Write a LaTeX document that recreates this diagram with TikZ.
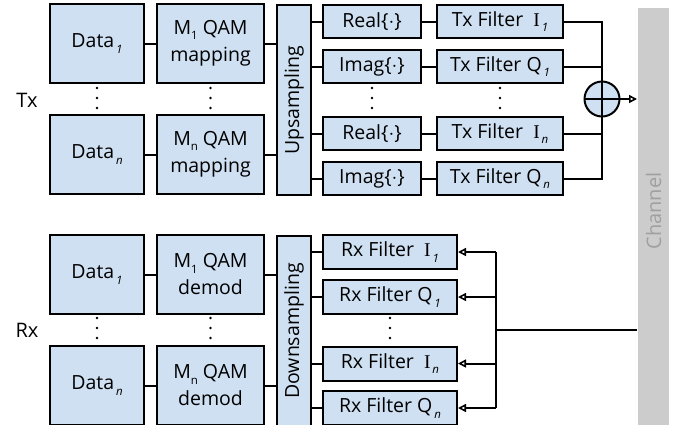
\documentclass[tikz,border=0pt]{standalone}
\usepackage{fontspec}
\setmainfont{Open Sans}
\newfontfamily\seriffont{Liberation Serif}
\usepackage{tikz}
\usetikzlibrary{arrows.meta}

\definecolor{boxblue}{RGB}{207,224,242}
\definecolor{changray}{RGB}{204,204,204}
\definecolor{chantext}{RGB}{160,160,160}

% subscripts: italic ones and upright ones
\newcommand{\isub}[1]{\raisebox{-0.5ex}{\fontsize{11.5}{11.5}\selectfont\,\textit{#1}}}
\newcommand{\msub}[1]{\raisebox{-0.5ex}{\fontsize{11.5}{11.5}\selectfont #1}}
\newcommand{\chI}{{\seriffont I}}

\begin{document}
\begin{tikzpicture}[x=1pt, y=-1pt, line width=2pt,
    blk/.style={draw, fill=boxblue, inner sep=0pt, align=center, font=\fontsize{19.5}{27}\selectfont},
    data/.style={blk, minimum width=94pt, minimum height=79pt},
    qam/.style={blk, minimum width=107pt, minimum height=79pt},
    part/.style={blk, minimum width=98pt, minimum height=33pt},
    txf/.style={blk, minimum width=126pt, minimum height=33pt},
    rxf/.style={blk, minimum width=134pt, minimum height=34pt},
    lbl/.style={inner sep=0pt, font=\fontsize{20}{22}\selectfont},
    tip/.style={-{Triangle[open, length=8pt, width=8pt, line width=1.6pt]}}]
    \useasboundingbox (0,0) rectangle (679,424);
    \clip (0,0) rectangle (679,424);

    % channel
    \node[fill=changray, inner sep=0pt, minimum width=31pt, minimum height=430pt] (chan) at (653.5,223) {};
    \node[inner sep=0pt, text=chantext, font=\fontsize{20}{22}\selectfont, rotate=90] (chanlbl) at (653.5,211) {Channel};

    % Tx side
    \node[lbl] (tx) at (27,100) {Tx};
    \node[data] (dt1) at (97,43.5) {Data\isub{1}};
    \node[data] (dtn) at (97,154.5) {Data\isub{n}};
    \node[qam] (map1) at (210.5,43.5) {M\msub{1} QAM\\mapping};
    \node[qam] (mapn) at (210.5,154.5) {M\msub{n} QAM\\mapping};
    \node[blk, minimum width=34pt, minimum height=190pt] (up) at (294,100) {\rotatebox{90}{Upsampling}};

    \node[part] (re1) at (372,21.5) {Real\{$\cdot$\}};
    \node[part] (im1) at (372,66.5) {Imag\{$\cdot$\}};
    \node[part] (ren) at (372,133.5) {Real\{$\cdot$\}};
    \node[part] (imn) at (372,178.5) {Imag\{$\cdot$\}};

    \node[txf] (txi1) at (500,21.5) {Tx Filter\ \ \chI\isub{1}};
    \node[txf] (txq1) at (500,66.5) {Tx Filter Q\isub{1}};
    \node[txf] (txin) at (500,133.5) {Tx Filter\ \ \chI\isub{n}};
    \node[txf] (txqn) at (500,178.5) {Tx Filter Q\isub{n}};

    \node[draw, circle, fill=boxblue, minimum size=35pt, inner sep=0pt] (sum) at (602,99) {};

    % vertical dots
    \foreach \x in {97, 210.5, 372, 500}
        \foreach \d in {-10, 0, 10}
            \fill (\x, 98+\d) circle (1.3pt);

    \draw (dt1) -- (map1);
    \draw (dtn) -- (mapn);
    \draw (map1.east) -- (map1.east -| up.west);
    \draw (mapn.east) -- (mapn.east -| up.west);
    \foreach \p in {re1, im1, ren, imn}
        \draw (\p.west -| up.east) -- (\p.west);
    \draw (re1) -- (txi1);
    \draw (im1) -- (txq1);
    \draw (ren) -- (txin);
    \draw (imn) -- (txqn);
    \draw (txi1.east) -| (sum.north);
    \draw (txqn.east) -| (sum.south);
    \draw (txq1.east) -- (txq1.east -| sum.center);
    \draw (txin.east) -- (txin.east -| sum.center);
    \draw (sum.north) -- (sum.south);
    \draw (sum.west) -- (sum.east);
    \draw[tip] (sum.east) -- (sum.east -| chan.west);

    % Rx side
    \node[lbl] (rx) at (27,330) {Rx};
    \node[data] (dr1) at (97,274.5) {Data\isub{1}};
    \node[data] (drn) at (97,385.5) {Data\isub{n}};
    \node[qam] (dem1) at (210.5,274.5) {M\msub{1} QAM\\demod};
    \node[qam] (demn) at (210.5,385.5) {M\msub{n} QAM\\demod};
    \node[blk, minimum width=34pt, minimum height=190pt] (down) at (294,331) {\rotatebox{90}{Downsampling}};

    \node[rxf] (rxi1) at (390,252) {Rx Filter\ \ \chI\isub{1}};
    \node[rxf] (rxq1) at (390,297) {Rx Filter Q\isub{1}};
    \node[rxf] (rxin) at (390,363.5) {Rx Filter\ \ \chI\isub{n}};
    \node[rxf] (rxqn) at (390,408) {Rx Filter Q\isub{n}};

    \foreach \x in {97, 210.5, 390}
        \foreach \d in {-10, 0, 10}
            \fill (\x, 328+\d) circle (1.3pt);

    \coordinate (rxbus) at (496,330);

    \draw (dr1) -- (dem1);
    \draw (drn) -- (demn);
    \draw (dem1.east) -- (dem1.east -| down.west);
    \draw (demn.east) -- (demn.east -| down.west);
    \foreach \f in {rxi1, rxq1, rxin, rxqn} {
        \draw (\f.west -| down.east) -- (\f.west);
        \draw[tip] (\f.east -| rxbus) -- (\f.east);
    }
    \draw (rxi1.east -| rxbus) -- (rxqn.east -| rxbus);
    \draw (rxbus) -- (rxbus -| chan.west);
\end{tikzpicture}
\end{document}
